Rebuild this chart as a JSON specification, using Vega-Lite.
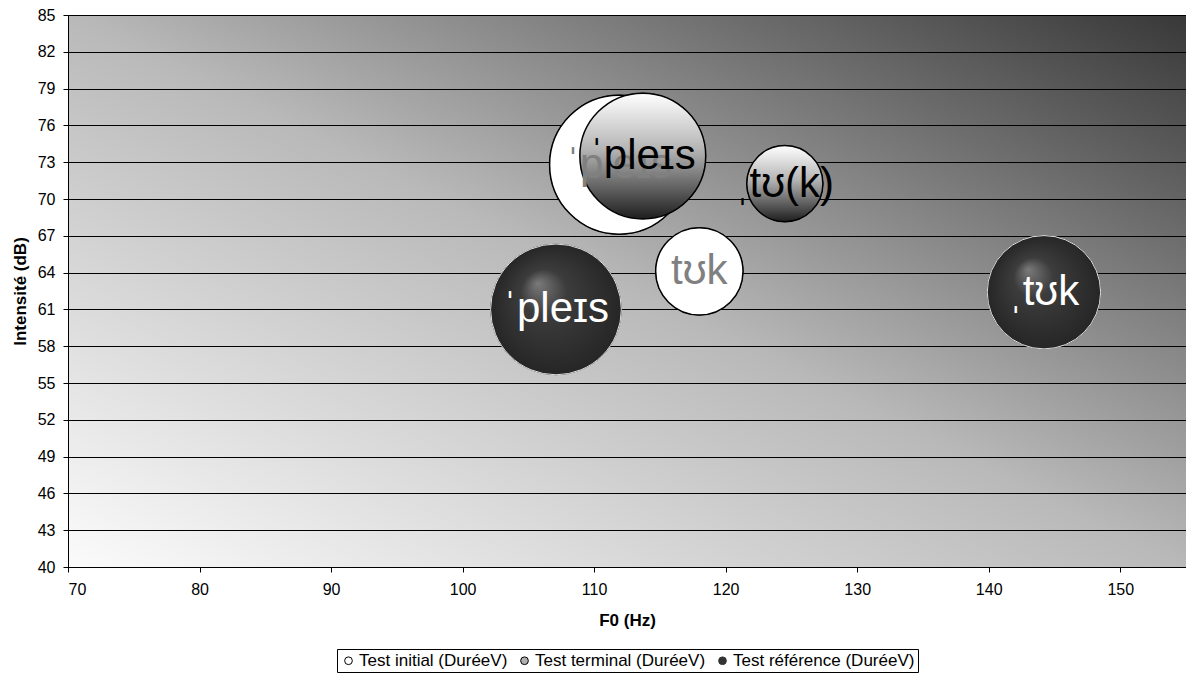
{
  "$schema": "https://vega.github.io/schema/vega-lite/v6.json",
  "width": 1118,
  "height": 552,
  "autosize": {"type": "none"},
  "padding": {"left": 68, "top": 15, "right": 0, "bottom": 107},
  "background": "white",
  "config": {
    "font": "Liberation Sans, Arial, DejaVu Sans, sans-serif",
    "view": {
      "fill": {
        "gradient": "linear",
        "x1": 0, "y1": 1, "x2": 1, "y2": 0,
        "stops": [
          {"offset": 0, "color": "#fbfbfb"},
          {"offset": 0.5, "color": "#b9b9b9"},
          {"offset": 1, "color": "#383838"}
        ]
      },
      "stroke": "#808080",
      "strokeWidth": 1
    },
    "axis": {
      "labelFont": "Liberation Sans, Arial, sans-serif",
      "labelFontSize": 16,
      "labelColor": "#000000",
      "titleFont": "Liberation Sans, Arial, sans-serif",
      "titleFontSize": 17,
      "titleFontWeight": "bold",
      "titleColor": "#000000",
      "domainColor": "#000000",
      "tickColor": "#000000",
      "tickSize": 5
    }
  },
  "data": {
    "values": [
      {"serie": "Test initial (DuréeV)", "mot": "ˈpleɪs", "f0": 111.9, "int": 72.8, "duree": 200},
      {"serie": "Test initial (DuréeV)", "mot": "tʊk", "f0": 118.0, "int": 64.1, "duree": 79},
      {"serie": "Test terminal (DuréeV)", "mot": "ˈpleɪs", "f0": 113.7, "int": 73.5, "duree": 164},
      {"serie": "Test terminal (DuréeV)", "mot": "ˌtʊ(k)", "f0": 124.5, "int": 71.25, "duree": 60},
      {"serie": "Test référence (DuréeV)", "mot": "ˈpleɪs", "f0": 107.1, "int": 61.0, "duree": 177},
      {"serie": "Test référence (DuréeV)", "mot": "ˌtʊk", "f0": 144.2, "int": 62.4, "duree": 133}
    ]
  },
  "encoding": {
    "x": {
      "field": "f0", "type": "quantitative",
      "scale": {"domain": [70, 155], "nice": false, "zero": false},
      "axis": {"values": [70, 80, 90, 100, 110, 120, 130, 140, 150], "grid": false, "title": "F0 (Hz)", "labelFontSize": 16, "labelPadding": 9, "titlePadding": 15}
    },
    "y": {
      "field": "int", "type": "quantitative",
      "scale": {"domain": [40, 85], "nice": false, "zero": false},
      "axis": {"values": [40, 43, 46, 49, 52, 55, 58, 61, 64, 67, 70, 73, 76, 79, 82, 85], "grid": true, "gridColor": "#000000", "gridOpacity": 1, "gridWidth": 1, "title": "Intensité (dB)", "labelFontSize": 16, "labelPadding": 8, "titlePadding": 8}
    }
  },
  "layer": [
    {
      "mark": {"type": "circle", "opacity": 1, "strokeWidth": 1},
      "encoding": {
        "size": {"field": "duree", "type": "quantitative", "scale": {"type": "linear", "domain": [0, 200], "range": [0, 19321], "zero": true}, "legend": null},
        "fill": {
          "field": "serie", "type": "nominal",
          "scale": {"domain": ["Test initial (DuréeV)", "Test terminal (DuréeV)", "Test référence (DuréeV)"], "range": ["#ffffff", "#b0b0b0", "#333333"]},
          "legend": {
            "orient": "none", "legendX": 269, "legendY": 634, "direction": "horizontal",
            "title": null, "strokeColor": "#000000", "padding": 3,
            "labelFontSize": 17, "labelLimit": 400, "labelFont": "Liberation Sans, Arial, sans-serif", "labelColor": "#000000",
            "symbolSize": 60, "symbolStrokeWidth": 1, "columnPadding": 8, "labelOffset": 2
          }
        },
        "stroke": {
          "field": "serie", "type": "nominal",
          "scale": {"domain": ["Test initial (DuréeV)", "Test terminal (DuréeV)", "Test référence (DuréeV)"], "range": ["#000000", "#000000", "#333333"]},
          "legend": {
            "orient": "none", "legendX": 269, "legendY": 634, "direction": "horizontal",
            "title": null, "strokeColor": "#000000", "padding": 3,
            "labelFontSize": 17, "labelLimit": 400, "labelFont": "Liberation Sans, Arial, sans-serif", "labelColor": "#000000",
            "symbolSize": 60, "symbolStrokeWidth": 1, "columnPadding": 8, "labelOffset": 2
          }
        }
      }
    },
    {
      "transform": [{"filter": "datum.serie === 'Test initial (DuréeV)'"}],
      "mark": {"type": "circle", "opacity": 1, "fill": "#ffffff", "stroke": "#000000", "strokeWidth": 1.5},
      "encoding": {
        "size": {"field": "duree", "type": "quantitative", "scale": {"type": "linear", "domain": [0, 200], "range": [0, 19321], "zero": true}, "legend": null}
      }
    },
    {
      "transform": [{"filter": "datum.serie === 'Test terminal (DuréeV)'"}],
      "mark": {
        "type": "circle", "opacity": 1, "stroke": "#000000", "strokeWidth": 1.5,
        "fill": {
          "gradient": "linear", "x1": 0, "y1": 0, "x2": 0, "y2": 1,
          "stops": [
            {"offset": 0, "color": "#ffffff"},
            {"offset": 0.45, "color": "#b4b4b4"},
            {"offset": 1, "color": "#1e1e1e"}
          ]
        }
      },
      "encoding": {
        "size": {"field": "duree", "type": "quantitative", "scale": {"type": "linear", "domain": [0, 200], "range": [0, 19321], "zero": true}, "legend": null}
      }
    },
    {
      "transform": [{"filter": "datum.serie === 'Test référence (DuréeV)'"}],
      "mark": {
        "type": "circle", "opacity": 1, "stroke": "#e0e0e0", "strokeWidth": 1,
        "fill": {
          "gradient": "radial", "x1": 0.36, "y1": 0.3, "r1": 0, "x2": 0.5, "y2": 0.5, "r2": 0.5,
          "stops": [
            {"offset": 0, "color": "#7a7a7a"},
            {"offset": 0.35, "color": "#3c3c3c"},
            {"offset": 1, "color": "#262626"}
          ]
        }
      },
      "encoding": {
        "size": {"field": "duree", "type": "quantitative", "scale": {"type": "linear", "domain": [0, 200], "range": [0, 19321], "zero": true}, "legend": null}
      }
    },
    {
      "transform": [{"filter": "datum.serie === 'Test initial (DuréeV)'"}],
      "mark": {"type": "text", "fontSize": 42, "font": "Liberation Sans, Arial, DejaVu Sans, sans-serif", "color": "#808080", "align": "center", "baseline": "middle"},
      "encoding": {"text": {"field": "mot"}}
    },
    {
      "transform": [{"filter": "datum.serie === 'Test terminal (DuréeV)'"}],
      "mark": {"type": "text", "fontSize": 42, "font": "Liberation Sans, Arial, DejaVu Sans, sans-serif", "color": "#000000", "align": "center", "baseline": "middle"},
      "encoding": {"text": {"field": "mot"}}
    },
    {
      "transform": [{"filter": "datum.serie === 'Test référence (DuréeV)'"}],
      "mark": {"type": "text", "fontSize": 42, "font": "Liberation Sans, Arial, DejaVu Sans, sans-serif", "color": "#ffffff", "align": "center", "baseline": "middle"},
      "encoding": {"text": {"field": "mot"}}
    }
  ]
}
